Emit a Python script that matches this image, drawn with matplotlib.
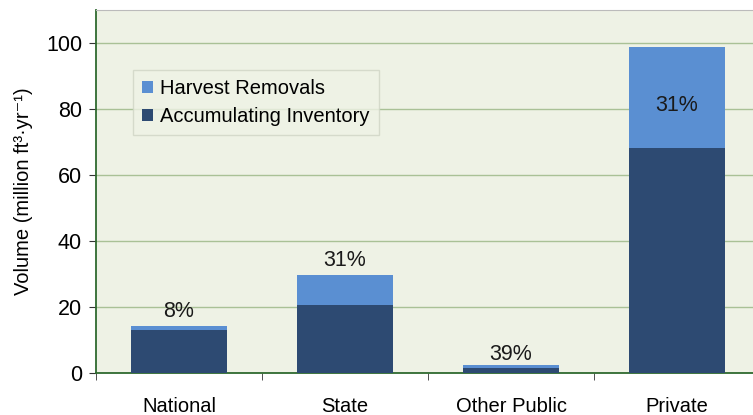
import numpy as np
import matplotlib.pyplot as plt

plt.rcParams['font.family'] = ['Liberation Sans', 'DejaVu Sans']

# data
owners = ['National', 'State', 'Other Public', 'Private']
accumulating = [13.0, 20.5, 1.5, 68.2]
harvest = [1.2, 9.2, 0.9, 30.6]
pct_labels = ['8%', '31%', '39%', '31%']
label_y = [18.5, 34.0, 5.5, 81.0]

light_blue = '#5a8fd2'
dark_blue = '#2d4a72'
axis_green = '#2f6a2f'

fig = plt.figure(figsize=(7.53, 4.15), dpi=100)
ax = fig.add_axes([96 / 753, 1 - 373 / 415, 664 / 753, 363 / 415])
ax.set_facecolor('#eef2e5')

x = np.arange(len(owners))
ax.bar(x, accumulating, width=0.58, color=dark_blue, label='Accumulating Inventory', zorder=3)
ax.bar(x, harvest, width=0.58, bottom=accumulating, color=light_blue, label='Harvest Removals', zorder=3)

for xi, txt, yy in zip(x, pct_labels, label_y):
    ax.text(xi, yy, txt, ha='center', va='center', fontsize=15.5, color='#1a1a1a', zorder=4)

ax.set_xlim(-0.5, 3.5)
ax.set_ylim(0, 110)
ax.set_yticks([0, 20, 40, 60, 80, 100])
ax.yaxis.grid(True, color='#a9c196', linewidth=1.0, zorder=0)
ax.tick_params(axis='y', labelsize=15.5, length=5, color='#333333', pad=5)

ax.set_xticks(x)
ax.set_xticklabels(owners)
ax.set_xticks(np.arange(-0.5, 4, 1), minor=True)
ax.tick_params(axis='x', which='major', length=0, labelsize=14.5, pad=17)
ax.tick_params(axis='x', which='minor', length=5, color='#333333')

for side in ['left', 'bottom']:
    ax.spines[side].set_color(axis_green)
    ax.spines[side].set_linewidth(1.3)
ax.spines['top'].set_color('#bbbbbb')
ax.spines['right'].set_visible(False)

ax.set_ylabel('Volume (million ft³·yr⁻¹)', fontsize=14.5, labelpad=9)

handles, labels = ax.get_legend_handles_labels()
leg = ax.legend(handles[::-1], labels[::-1], loc='upper left', bbox_to_anchor=(0.056, 0.835),
                fontsize=14.5, frameon=True, fancybox=False, edgecolor='#cfd5c5',
                facecolor='#eef2e5', handlelength=0.55, handleheight=0.55,
                handletextpad=0.35, labelspacing=0.45, borderpad=0.45, borderaxespad=0)
leg.get_frame().set_linewidth(1.0)

fig.savefig('out.png', dpi=100)
